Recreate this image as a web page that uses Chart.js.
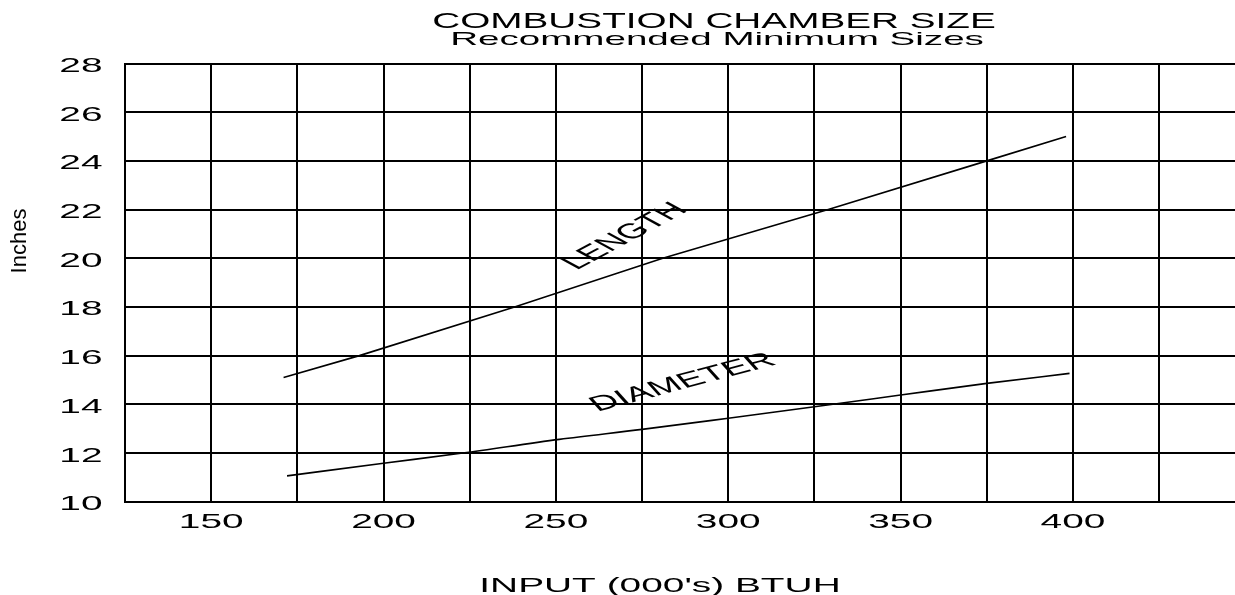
<!DOCTYPE html>
<html>
<head>
<meta charset="utf-8">
<script src="https://cdn.jsdelivr.net/npm/chart.js@4"></script>
<style>
  html, body { margin: 0; padding: 0; background: #fff; overflow: hidden; }
  #wrap { width: 1235px; height: 595px; position: relative; }
</style>
</head>
<body>
<div id="wrap"><canvas id="myChart"></canvas></div>
<script>
// chart values
const titleLines = ['COMBUSTION CHAMBER SIZE', 'Recommended Minimum Sizes'];
const xTitle = "INPUT (000's) BTUH";
const yTitle = 'Inches';
const xGridValues = [125, 150, 175, 200, 225, 250, 275, 300, 325, 350, 375, 400, 425];
const xTickLabels = [150, 200, 250, 300, 350, 400];
const yTickLabels = [10, 12, 14, 16, 18, 20, 22, 24, 26, 28];
const lengthX = [171, 193, 238, 281, 329, 375, 398];
const lengthY = [15.1, 16, 18, 20, 22, 24, 25];
const diameterX = [172, 200, 223, 251, 275, 300, 325, 350, 375, 399];
const diameterY = [11.06, 11.58, 12.0, 12.56, 12.97, 13.43, 13.9, 14.38, 14.86, 15.27];
// curve labels: text, anchor x, anchor y, slant
const curveLabels = [['LENGTH', 256, 19.5, 44.7], ['DIAMETER', 262, 13.7, 26]];

const STRETCH = 1.85; // the source draws its lettering very wide
const FAMILY = '"Liberation Sans", Arial, sans-serif';

const toPoints = (xs, ys) => xs.map((v, i) => ({ x: v, y: ys[i] }));

const textPlugin = {
  id: 'wideText',
  afterDraw(chart) {
    const ctx = chart.ctx;
    const xs = chart.scales.x, ys = chart.scales.y;
    ctx.save();
    ctx.fillStyle = '#000';
    ctx.textBaseline = 'alphabetic';

    function put(text, px, py, align, angle, size, stretch) {
      ctx.save();
      ctx.font = (size || 21) + 'px ' + FAMILY;
      ctx.translate(px, py);
      ctx.scale(stretch || STRETCH, 1);
      if (angle) ctx.rotate(-angle * Math.PI / 180);
      ctx.textAlign = align;
      ctx.fillText(text, 0, 0);
      ctx.restore();
    }

    put(titleLines[0], 714, 28.3, 'center', 0, 22, 1.76);
    put(titleLines[1], 717, 45, 'center', 0, 19, 2.03);

    yTickLabels.forEach(v => put(String(v), xs.left - 22.5, ys.getPixelForValue(v) + 8.5, 'right'));
    xTickLabels.forEach(v => put(String(v), xs.getPixelForValue(v), ys.bottom + 26.5, 'center'));
    put(xTitle, 660, 592, 'center');

    curveLabels.forEach(l => put(l[0], xs.getPixelForValue(l[1]), ys.getPixelForValue(l[2]), 'left', l[3]));

    // y title is upright-width in the source
    ctx.save();
    ctx.font = '22px ' + FAMILY;
    ctx.translate(25.5, 241);
    ctx.rotate(-Math.PI / 2);
    ctx.textAlign = 'center';
    ctx.fillText(yTitle, 0, 0);
    ctx.restore();

    ctx.restore();
  }
};

var ctx = document.getElementById('myChart').getContext('2d');
var chart = new Chart(ctx, {
  type: 'scatter',
  data: {
    datasets: [{
      label: 'LENGTH',
      data: toPoints(lengthX, lengthY),
      showLine: true,
      borderColor: '#000',
      borderWidth: 1.6,
      pointRadius: 0,
      tension: 0
    }, {
      label: 'DIAMETER',
      data: toPoints(diameterX, diameterY),
      showLine: true,
      borderColor: '#000',
      borderWidth: 1.6,
      pointRadius: 0,
      cubicInterpolationMode: 'monotone'
    }]
  },
  options: {
    responsive: true,
    maintainAspectRatio: false,
    animation: false,
    layout: { padding: { top: 63.5, left: 0, right: 0, bottom: 0 } },
    plugins: {
      legend: { display: false },
      title: { display: false },
      tooltip: { enabled: false }
    },
    scales: {
      x: {
        type: 'linear',
        min: 125,
        max: 447,
        afterBuildTicks: s => { s.ticks = xGridValues.map(v => ({ value: v })); },
        afterFit: s => { s.height = 93.3; },
        ticks: { display: false },
        grid: { color: '#000', lineWidth: 2, drawTicks: false },
        border: { display: true, color: '#000', width: 2 }
      },
      y: {
        min: 10,
        max: 28,
        afterBuildTicks: s => { s.ticks = yTickLabels.map(v => ({ value: v })); },
        afterFit: s => { s.width = 125; },
        ticks: { display: false },
        grid: { color: '#000', lineWidth: 2, drawTicks: false },
        border: { display: true, color: '#000', width: 2 }
      }
    }
  },
  plugins: [textPlugin]
});
</script>
</body>
</html>
